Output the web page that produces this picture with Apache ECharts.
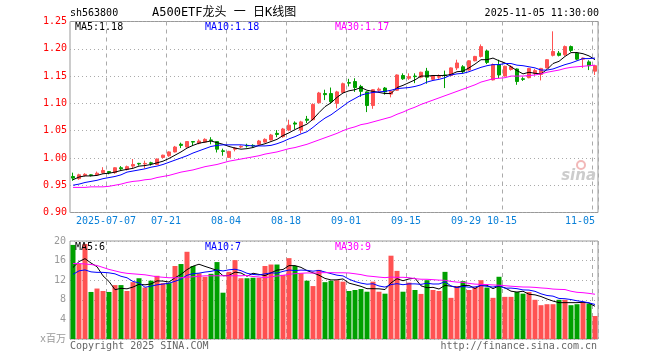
<!DOCTYPE html>
<html><head><meta charset="utf-8">
<script src="https://cdn.jsdelivr.net/npm/echarts@6/dist/echarts.min.js"></script>
<style>html,body{margin:0;padding:0;background:#fff}#c{width:660px;height:360px}</style>
</head><body><div id="c"></div>
<script>
const dates = ['2025-06-27','2025-06-30','2025-07-01','2025-07-02','2025-07-03','2025-07-04',
'2025-07-07','2025-07-08','2025-07-09','2025-07-10','2025-07-11',
'2025-07-14','2025-07-15','2025-07-16','2025-07-17','2025-07-18',
'2025-07-21','2025-07-22','2025-07-23','2025-07-24','2025-07-25',
'2025-07-28','2025-07-29','2025-07-30','2025-07-31','2025-08-01',
'2025-08-04','2025-08-05','2025-08-06','2025-08-07','2025-08-08',
'2025-08-11','2025-08-12','2025-08-13','2025-08-14','2025-08-15',
'2025-08-18','2025-08-19','2025-08-20','2025-08-21','2025-08-22',
'2025-08-25','2025-08-26','2025-08-27','2025-08-28','2025-08-29',
'2025-09-01','2025-09-02','2025-09-03','2025-09-04','2025-09-05',
'2025-09-08','2025-09-09','2025-09-10','2025-09-11','2025-09-12',
'2025-09-15','2025-09-16','2025-09-17','2025-09-18','2025-09-19',
'2025-09-22','2025-09-23','2025-09-24','2025-09-25','2025-09-26',
'2025-09-29','2025-09-30','2025-10-09','2025-10-10',
'2025-10-13','2025-10-14','2025-10-15','2025-10-16','2025-10-17',
'2025-10-20','2025-10-21','2025-10-22','2025-10-23','2025-10-24',
'2025-10-27','2025-10-28','2025-10-29','2025-10-30','2025-10-31',
'2025-11-03','2025-11-04','2025-11-05'];

const opens = [0.966,0.962,0.968,0.969,0.969,0.973,0.975,0.973,0.982,0.979,
0.985,0.990,0.989,0.991,0.988,1.001,1.004,1.011,1.025,1.020,
1.030,1.027,1.029,1.033,1.030,1.013,1.001,1.016,1.020,1.023,
1.023,1.025,1.029,1.033,1.045,1.039,1.051,1.064,1.051,1.071,
1.070,1.101,1.118,1.118,1.100,1.120,1.138,1.140,1.131,1.121,
1.096,1.124,1.128,1.117,1.124,1.151,1.146,1.150,1.148,1.159,
1.144,1.148,1.152,1.151,1.165,1.167,1.161,1.178,1.186,1.196,
1.143,1.171,1.150,1.162,1.163,1.145,1.147,1.155,1.153,1.165,
1.188,1.192,1.189,1.204,1.192,1.181,1.176,1.159];
const closes = [0.963,0.969,0.970,0.968,0.972,0.977,0.973,0.982,0.980,0.984,
0.988,0.989,0.990,0.990,0.998,1.005,1.011,1.020,1.023,1.030,
1.029,1.031,1.034,1.032,1.016,1.012,1.012,1.018,1.021,1.022,
1.022,1.031,1.034,1.042,1.043,1.053,1.060,1.062,1.066,1.069,
1.098,1.119,1.116,1.103,1.121,1.136,1.137,1.129,1.122,1.096,
1.125,1.126,1.121,1.122,1.152,1.145,1.149,1.149,1.157,1.148,
1.151,1.149,1.151,1.165,1.174,1.158,1.178,1.186,1.204,1.175,
1.171,1.152,1.168,1.167,1.140,1.144,1.164,1.160,1.164,1.180,
1.195,1.188,1.204,1.197,1.181,1.183,1.169,1.169];
const lows = [0.958,0.960,0.966,0.966,0.967,0.971,0.970,0.971,0.977,0.977,
0.981,0.986,0.981,0.986,0.987,0.999,1.002,1.010,1.018,1.019,
1.022,1.025,1.028,1.025,1.010,1.004,1.000,1.012,1.018,1.019,
1.019,1.023,1.028,1.032,1.038,1.037,1.049,1.053,1.045,1.064,
1.069,1.100,1.106,1.100,1.091,1.119,1.131,1.121,1.112,1.084,
1.090,1.121,1.116,1.111,1.123,1.143,1.143,1.137,1.146,1.136,
1.142,1.145,1.128,1.150,1.161,1.155,1.160,1.177,1.184,1.172,
1.142,1.146,1.149,1.160,1.134,1.141,1.146,1.151,1.142,1.164,
1.186,1.186,1.187,1.194,1.179,1.165,1.161,1.152];
const highs = [0.973,0.971,0.972,0.970,0.975,0.983,0.976,0.983,0.985,0.986,
0.998,0.991,0.995,0.993,0.999,1.006,1.012,1.022,1.028,1.031,
1.031,1.034,1.036,1.038,1.031,1.017,1.013,1.020,1.023,1.026,
1.025,1.033,1.036,1.044,1.051,1.055,1.070,1.067,1.068,1.077,
1.100,1.121,1.125,1.129,1.123,1.138,1.145,1.146,1.134,1.122,
1.126,1.129,1.130,1.123,1.153,1.155,1.155,1.155,1.158,1.165,
1.152,1.153,1.160,1.166,1.180,1.170,1.179,1.187,1.208,1.198,
1.173,1.180,1.169,1.170,1.164,1.148,1.165,1.163,1.165,1.181,
1.232,1.196,1.206,1.206,1.194,1.184,1.179,1.170];

const ma5 = [0.960,0.965,0.967,0.967,0.968,0.971,0.972,0.974,0.977,0.979,
0.981,0.985,0.986,0.988,0.991,0.994,0.999,1.005,1.011,1.018,
1.023,1.027,1.029,1.031,1.028,1.025,1.021,1.018,1.016,1.017,
1.019,1.023,1.026,1.030,1.034,1.041,1.046,1.052,1.057,1.062,
1.071,1.083,1.094,1.101,1.111,1.119,1.123,1.125,1.129,1.124,
1.122,1.120,1.118,1.118,1.129,1.133,1.138,1.143,1.150,1.150,
1.151,1.151,1.151,1.153,1.158,1.159,1.165,1.172,1.180,1.180,
1.183,1.178,1.174,1.167,1.160,1.154,1.157,1.155,1.154,1.162,
1.173,1.177,1.186,1.193,1.193,1.191,1.187,1.180];
const ma10 = [0.950,0.952,0.955,0.957,0.959,0.962,0.964,0.966,0.969,0.974,
0.976,0.978,0.980,0.983,0.985,0.988,0.992,0.996,1.000,1.004,
1.009,1.013,1.017,1.021,1.023,1.024,1.024,1.024,1.024,1.023,
1.022,1.022,1.022,1.023,1.026,1.030,1.035,1.039,1.044,1.048,
1.056,1.065,1.073,1.079,1.087,1.095,1.103,1.109,1.115,1.118,
1.120,1.121,1.122,1.124,1.127,1.128,1.129,1.131,1.134,1.139,
1.142,1.144,1.147,1.152,1.154,1.155,1.158,1.162,1.166,1.169,
1.171,1.171,1.173,1.173,1.170,1.169,1.167,1.165,1.161,1.161,
1.163,1.167,1.171,1.174,1.178,1.182,1.182,1.183];
const ma30 = [0.946,0.946,0.946,0.947,0.947,0.947,0.948,0.950,0.952,0.955,
0.957,0.958,0.960,0.961,0.964,0.966,0.968,0.971,0.974,0.976,
0.978,0.981,0.984,0.986,0.988,0.991,0.994,0.996,0.998,1.000,
1.002,1.004,1.007,1.009,1.011,1.014,1.017,1.019,1.022,1.025,
1.029,1.033,1.037,1.041,1.045,1.050,1.054,1.057,1.061,1.063,
1.066,1.069,1.072,1.075,1.080,1.084,1.089,1.093,1.098,1.102,
1.106,1.110,1.114,1.118,1.122,1.126,1.130,1.134,1.139,1.142,
1.145,1.146,1.147,1.150,1.150,1.150,1.151,1.152,1.154,1.157,
1.159,1.161,1.164,1.166,1.167,1.168,1.169,1.170];

const volumes = [19.2,15.3,19.4,9.6,10.3,9.8,9.6,11.0,11.0,9.8,
11.6,12.4,10.5,11.9,12.9,11.4,11.4,14.9,15.3,17.8,
14.9,13.4,12.7,13.3,15.7,9.45,13.7,16.1,12.4,12.4,
12.5,12.5,14.9,15.2,15.2,13.1,16.5,14.9,13.4,11.9,
10.8,14.1,11.6,11.9,12.0,11.7,9.8,10.0,10.2,9.65,
11.7,9.65,9.25,17.0,13.9,9.65,11.5,10.0,9.2,12.0,
10.0,9.8,13.7,8.4,10.8,11.8,10.0,10.5,12.0,10.5,
8.4,12.7,8.6,8.6,9.6,9.25,9.6,8.0,6.9,7.1,
7.1,8.0,8.0,6.9,7.1,7.5,7.2,4.7];
const volUp = [0,1,1,0,1,1,0,1,0,1, 1,0,1,0,1,1,0,1,0,1, 0,1,1,0,0,0,1,1,1,0,
0,1,1,1,0,1,1,0,1,0, 1,1,0,0,1,1,0,0,0,0, 1,1,0,1,1,0,1,0,1,0,
1,1,0,1,1,0,1,1,1,0, 1,0,1,1,0,0,1,1,1,1, 1,0,1,0,0,1,0,1];
const volMa5 = [14.6,15.8,16.4,15.5,14.76,12.88,11.74,10.06,10.34,10.24,
10.6,11.16,11.06,11.24,11.86,11.82,11.62,12.5,13.18,14.16,
14.86,15.26,14.82,14.42,14.0,12.91,12.97,13.65,13.47,12.81,
13.42,13.18,12.94,13.5,14.06,14.18,14.98,14.98,14.62,13.96,
13.5,13.02,12.36,12.06,12.08,12.26,11.4,11.08,10.74,10.27,
10.27,10.24,10.09,11.45,12.3,11.89,12.26,12.41,10.85,10.47,
10.54,10.2,10.94,10.78,10.54,10.9,10.94,10.3,11.02,10.96,
10.28,10.82,10.44,9.76,9.58,9.75,9.13,9.01,8.67,8.17,
7.74,7.42,7.42,7.42,7.42,7.5,7.34,6.68];
const volMa10 = [13.2,13.9,14.1,13.7,13.6,13.6,13.5,13.3,12.8,12.5,
11.74,11.45,10.56,10.79,11.05,11.21,11.39,11.78,12.21,13.01,
13.34,13.44,13.66,13.8,14.08,13.89,14.12,14.24,13.95,13.41,
13.17,13.08,13.3,13.49,13.44,13.8,14.08,13.96,14.06,14.01,
13.84,14.0,13.67,13.34,13.02,12.88,12.21,11.72,11.4,11.18,
11.27,10.82,10.59,11.1,11.29,11.08,11.25,11.25,11.15,11.39,
11.22,11.23,11.68,10.82,10.51,10.72,10.57,10.62,10.9,10.75,
10.59,10.88,10.37,10.39,10.27,10.02,9.98,9.73,9.22,8.88,
8.75,8.28,8.22,8.05,7.8,7.62,7.38,7.05];
const volMa30 = [15.4,15.4,15.3,15.2,15.0,14.6,14.2,13.9,13.6,13.4,
13.3,13.2,13.1,12.9,12.7,12.6,12.5,12.5,12.5,12.6,
12.7,12.8,12.9,12.9,12.9,12.9,12.9,12.9,12.9,12.97,
12.75,12.66,12.51,12.69,12.86,12.97,13.2,13.33,13.41,13.48,
13.45,13.51,13.54,13.54,13.51,13.52,13.47,13.31,13.14,12.87,
12.76,12.63,12.52,12.64,12.58,12.59,12.51,12.31,12.2,12.19,
12.11,12.02,11.98,11.75,11.61,11.56,11.34,11.2,11.15,11.11,
11.03,10.98,10.88,10.77,10.69,10.61,10.6,10.53,10.42,10.34,
10.19,10.13,10.09,9.75,9.53,9.45,9.31,9.13];

const tickDates = ['2025-07-07','2025-07-21','2025-08-04','2025-08-18','2025-09-01','2025-09-15','2025-09-29','2025-10-15','2025-11-05'];
const tickLabels = ['2025-07-07','07-21','08-04','08-18','09-01','09-15','09-29','10-15','11-05'];

const MONO = '"DejaVu Sans Mono","Noto Sans CJK SC",monospace';
const RED = '#ff5252', GREEN = '#00a000';
const chart = echarts.init(document.getElementById('c'), null, {renderer: 'canvas'});
const isTick = (i, v) => tickDates.indexOf(v) >= 0;

function txt(x, y, text, fill, size, align) {
  return {type: 'text', x: x, y: y, silent: true, z: 100,
    style: {text: text, fill: fill, font: (size || 10) + 'px ' + MONO,
      textAlign: align || 'left', textVerticalAlign: 'middle'}};
}
function line(name, data, color, xi) {
  return {type: 'line', name: name, data: data, xAxisIndex: xi, yAxisIndex: xi,
    symbol: 'none', smooth: false, silent: true, z: 5,
    lineStyle: {color: color, width: 1}};
}
const xAxisBase = {
  type: 'category', data: dates, boundaryGap: true,
  axisLine: {show: false}, axisTick: {show: false},
  splitLine: {show: true, interval: isTick, lineStyle: {color: '#aaa', type: [4, 4], width: 1}}
};

chart.setOption({
  animation: false,
  backgroundColor: '#fff',
  grid: [
    {left: 70, top: 21.5, width: 528, height: 191, show: true, borderColor: '#999', borderWidth: 1},
    {left: 70, top: 241, width: 528, height: 98, show: true, borderColor: '#999', borderWidth: 1}
  ],
  xAxis: [
    Object.assign({}, xAxisBase, {gridIndex: 0,
      axisLabel: {show: true, interval: isTick, margin: 4,
        formatter: function (v) {
          const k = tickDates.indexOf(v);
          return k === tickDates.length - 1 ? '{e|' + tickLabels[k] + '}' : '{a|' + tickLabels[k] + '}';
        },
        rich: {
          a: {color: '#0a80d8', fontFamily: MONO, fontSize: 10, padding: [0, 6, 0, 0]},
          e: {color: '#0a80d8', fontFamily: MONO, fontSize: 10, padding: [0, 30, 0, 0]}
        }}}),
    Object.assign({}, xAxisBase, {gridIndex: 1, axisLabel: {show: false}})
  ],
  yAxis: [
    {type: 'value', gridIndex: 0, min: 0.90, max: 1.25, interval: 0.05, scale: true,
      axisLine: {show: false}, axisTick: {show: false},
      axisLabel: {color: '#ff0000', fontFamily: MONO, fontSize: 10, margin: 3,
        formatter: function (v) { return v.toFixed(2); }},
      splitLine: {show: true, lineStyle: {color: '#aaa', type: [1, 3], width: 1}}},
    {type: 'value', gridIndex: 1, min: 0, max: 20, interval: 4,
      axisLine: {show: false}, axisTick: {show: false},
      axisLabel: {color: '#999', fontFamily: MONO, fontSize: 10, margin: 4,
        formatter: function (v) { return v === 0 ? 'x百万' : String(v); }},
      splitLine: {show: true, lineStyle: {color: '#aaa', type: [1, 3], width: 1}}}
  ],
  series: [
    {type: 'candlestick', xAxisIndex: 0, yAxisIndex: 0, barWidth: 4, silent: true, z: 3,
      data: dates.map(function (d, i) { return [opens[i], closes[i], lows[i], highs[i]]; }),
      itemStyle: {color: RED, color0: GREEN, borderColor: RED, borderColor0: GREEN, borderWidth: 1}},
    line('MA5', ma5, '#000000', 0),
    line('MA10', ma10, '#0000ff', 0),
    line('MA30', ma30, '#ff00ff', 0),
    {type: 'bar', xAxisIndex: 1, yAxisIndex: 1, barWidth: 5, silent: true, z: 3,
      data: volumes.map(function (v, i) { return {value: v, itemStyle: {color: volUp[i] ? RED : GREEN}}; })},
    line('VMA5', volMa5, '#000000', 1),
    line('VMA10', volMa10, '#0000ff', 1),
    line('VMA30', volMa30, '#ff00ff', 1)
  ],
  graphic: [
    txt(70, 13, 'sh563800', '#000', 10),
    txt(152, 13, 'A500ETF龙头 一 日K线图', '#000', 12),
    txt(599, 13, '2025-11-05 11:30:00', '#000', 10, 'right'),
    txt(75, 27, 'MA5:1.18', '#000', 10),
    txt(205, 27, 'MA10:1.18', '#0000ff', 10),
    txt(335, 27, 'MA30:1.17', '#ff00ff', 10),
    txt(75, 247, 'MA5:6', '#000', 10),
    txt(205, 247, 'MA10:7', '#0000ff', 10),
    txt(335, 247, 'MA30:9', '#ff00ff', 10),
    txt(70, 346, 'Copyright 2025 SINA.COM', '#666', 10),
    txt(597, 346, 'http://finance.sina.com.cn', '#666', 10, 'right'),
    {type: 'circle', silent: true, z: 1, shape: {cx: 581, cy: 165, r: 4},
      style: {fill: 'none', stroke: '#f2b8b8', lineWidth: 2}},
    {type: 'text', x: 596, y: 176, silent: true, z: 1,
      style: {text: 'sina', fill: '#cccccc', font: 'italic bold 15px "DejaVu Sans"', textAlign: 'right', textVerticalAlign: 'middle'}}
  ]
});
</script>
</body></html>
